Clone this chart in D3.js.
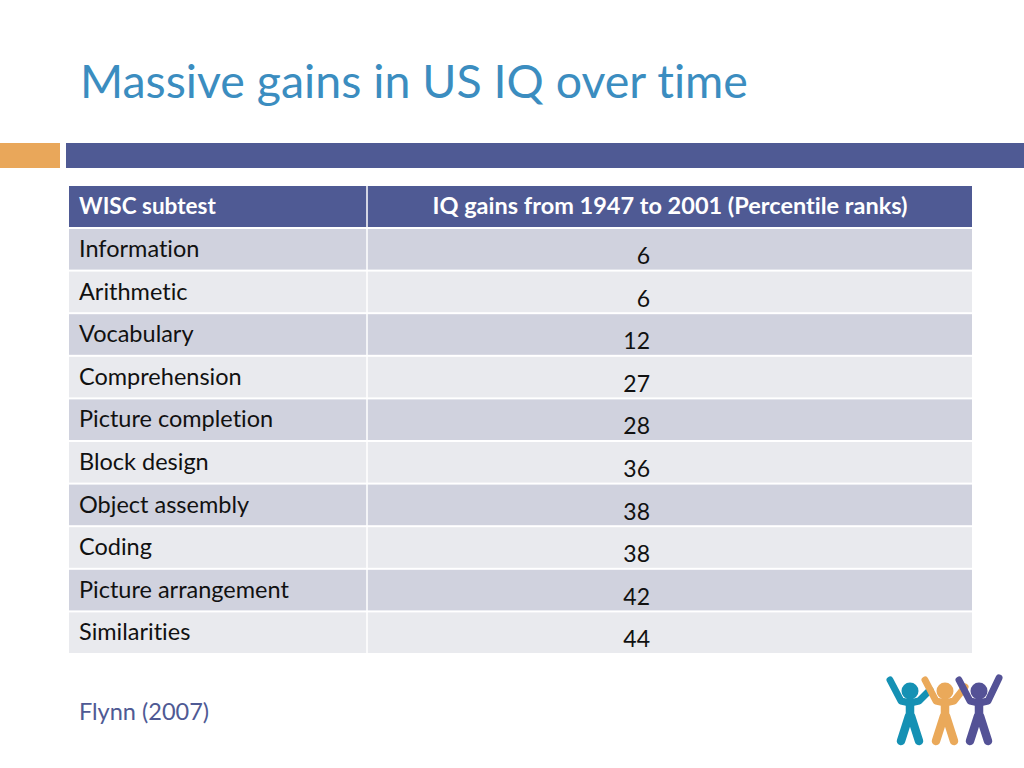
<!DOCTYPE html>
<html><head><meta charset="utf-8">
<script src="https://cdn.jsdelivr.net/npm/d3@7"></script>
<style>body{margin:0;background:#fff;}svg{display:block;font-family:Lato,"Open Sans",sans-serif;font-variant-ligatures:none;}</style>
</head><body>
<script>
const title = "Massive gains in US IQ over time";
const headers = ["WISC subtest", "IQ gains from 1947 to 2001 (Percentile ranks)"];
const subtests = ["Information","Arithmetic","Vocabulary","Comprehension","Picture completion","Block design","Object assembly","Coding","Picture arrangement","Similarities"];
const gains = [6,6,12,27,28,36,38,38,42,44];
const source = "Flynn (2007)";

const W = 1024, H = 768;
const svg = d3.select("body").append("svg").attr("width", W).attr("height", H);

svg.append("text").attr("x", 80).attr("y", 98).attr("font-size", 46.5)
  .attr("fill", "#3b8dc0").text(title);

svg.append("rect").attr("x", 0).attr("y", 143).attr("width", 60).attr("height", 25).attr("fill", "#e9a75a");
svg.append("rect").attr("x", 66).attr("y", 143).attr("width", W - 66).attr("height", 25).attr("fill", "#4f5a94");

const x0 = 69, xDiv = 367, x1 = 972;
const y = d3.scaleBand().domain(subtests).range([228, 654]).paddingInner(0);

// header
svg.append("rect").attr("x", x0).attr("y", 186).attr("width", x1 - x0).attr("height", 41).attr("fill", "#4f5a94");
svg.append("line").attr("x1", xDiv).attr("x2", xDiv).attr("y1", 186).attr("y2", 227).attr("stroke", "#fff").attr("stroke-width", 1.5);
svg.append("text").attr("x", 79).attr("y", 214).attr("font-size", 22.5).attr("font-weight", "bold").attr("fill", "#fff").text(headers[0]);
svg.append("text").attr("x", 670).attr("y", 214).attr("font-size", 23.5).attr("font-weight", "bold").attr("fill", "#fff").attr("text-anchor", "middle").text(headers[1]);

const rows = svg.selectAll("g.row").data(subtests).join("g").attr("class", "row");
rows.append("rect").attr("x", x0).attr("y", d => y(d) + 1).attr("width", x1 - x0).attr("height", y.bandwidth() - 2)
  .attr("fill", (d, i) => i % 2 === 0 ? "#d0d2de" : "#e9eaee");
rows.append("line").attr("x1", xDiv).attr("x2", xDiv).attr("y1", d => y(d)).attr("y2", d => y(d) + y.bandwidth()).attr("stroke", "#fff").attr("stroke-width", 1.5);
rows.append("text").attr("x", 79).attr("y", d => y(d) + 29).attr("font-size", 23.5).attr("fill", "#111").text(d => d);
rows.append("text").attr("x", 650).attr("y", (d, i) => y(d) + 36).attr("font-size", 23).attr("fill", "#111").attr("text-anchor", "end").text((d, i) => gains[i]);

svg.append("text").attr("x", 79).attr("y", 720).attr("font-size", 23.5).attr("fill", "#4f5a94").text(source);

// logo
function person(g, cx, color, armUp) {
  const p = g.append("g").attr("transform", `translate(${cx},0)`);
  p.append("circle").attr("cx", 0).attr("cy", 691).attr("r", 8.5).attr("fill", color);
  p.append("path").attr("d", `M-20,680 L-9,701 L0,703 L9,701 L20,${armUp}`)
    .attr("stroke", color).attr("stroke-width", 7).attr("fill", "none").attr("stroke-linecap", "round").attr("stroke-linejoin", "round");
  p.append("path").attr("d", `M0,701 L0,719 M-1,716 L-9,741 M1,716 L9,741`)
    .attr("stroke", color).attr("stroke-width", 8.5).attr("fill", "none").attr("stroke-linecap", "round");
}
const lg = svg.append("g");
person(lg, 910, "#1591b4", 690);
person(lg, 945, "#eaa95a", 687);
person(lg, 979, "#545296", 678);
</script>
</body></html>
